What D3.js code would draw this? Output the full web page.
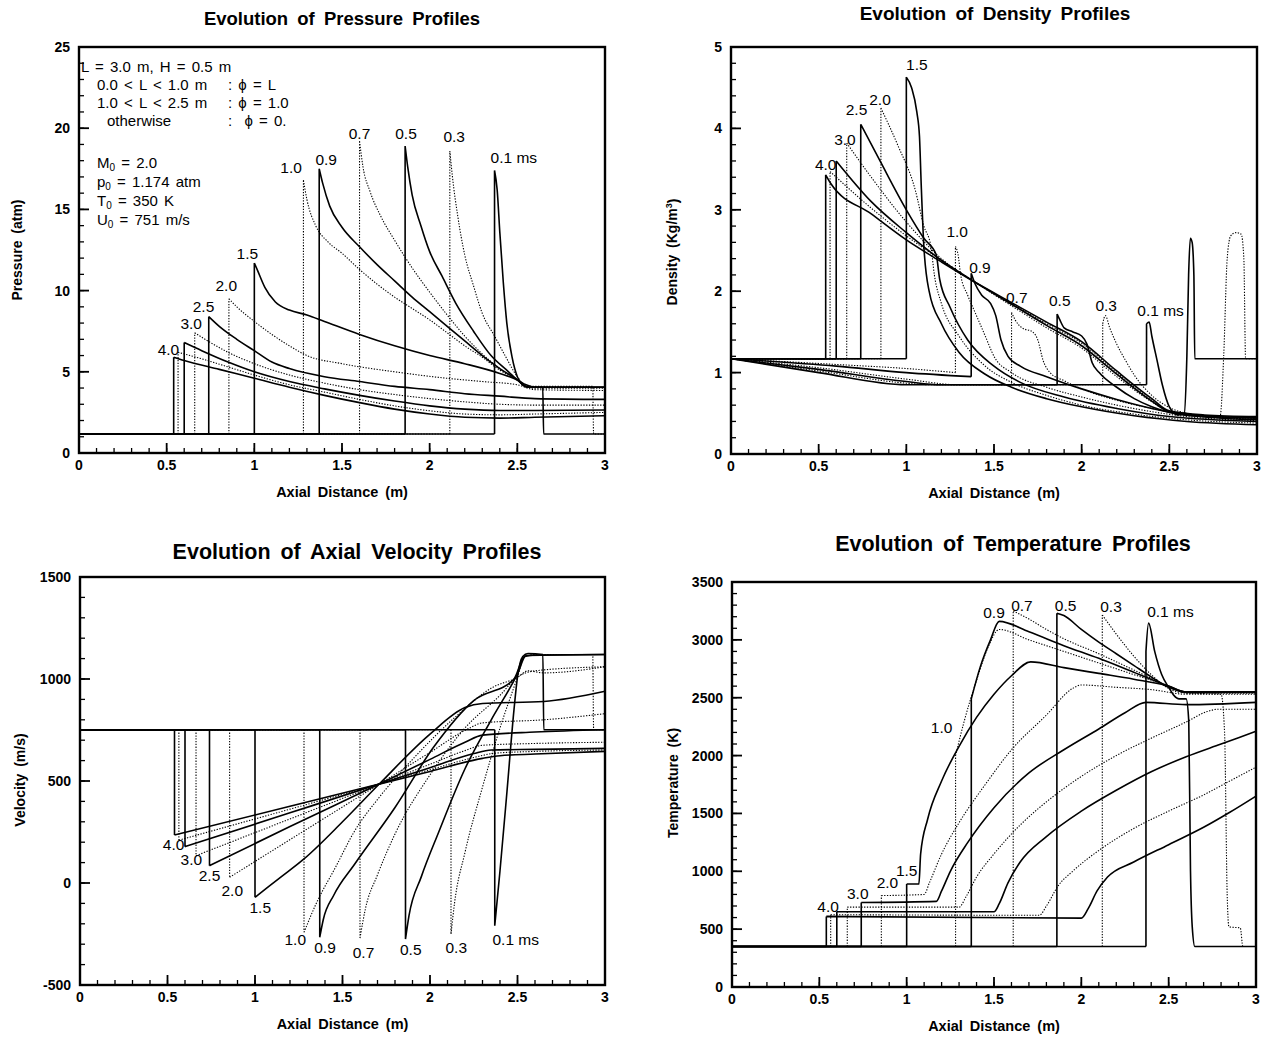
<!DOCTYPE html>
<html>
<head>
<meta charset="utf-8">
<script src="https://cdn.jsdelivr.net/npm/d3@7"></script>
<style>
body { margin: 0; background: #fff; }
svg { font-family: "Liberation Sans", Arial, Helvetica, sans-serif; }
</style>
</head>
<body>
<script>
var width = 1267,
	height = 1037;

// curve order: 0.1 0.3 0.5 0.7 0.9 1.0 1.5 2.0 2.5 3.0 (unlabelled) (unlabelled) 4.0 ms
var timeLabels = ['0.1 ms', '0.3', '0.5', '0.7', '0.9', '1.0', '1.5', '2.0', '2.5', '3.0', '', '', '4.0'];
var dotted = [0, 1, 0, 1, 0, 1, 0, 1, 0, 1, 0, 1, 0];
var xTicks = [0, 0.5, 1, 1.5, 2, 2.5, 3];

// pressure (atm) vs axial distance (m)
var pressureCurves = [
	[[0,1.17],[2.37,1.17],[2.37,17.4],[2.385,16.2],[2.40,13.6],[2.42,10.5],[2.44,8.0],[2.47,5.9],[2.5,4.7],[2.53,4.2],[2.56,4.05],[2.645,4.05],[2.65,1.17],[3,1.17]],
	[[0,1.17],[2.115,1.17],[2.115,18.6],[2.13,17.0],[2.16,14.6],[2.2,12.2],[2.25,10.3],[2.3,8.6],[2.37,7.2],[2.43,6.0],[2.5,4.7],[2.55,4.15],[2.6,4.1],[2.93,4.1],[2.935,1.17],[3,1.17]],
	[[0,1.17],[1.86,1.17],[1.86,18.9],[1.875,17.6],[1.9,15.9],[1.95,14.0],[2.0,12.4],[2.07,10.9],[2.15,9.2],[2.25,7.5],[2.35,6.0],[2.45,5.0],[2.5,4.5],[2.55,4.1],[2.6,4.05],[3,4.05]],
	[[0,1.17],[1.6,1.17],[1.6,19.2],[1.62,17.6],[1.66,16.1],[1.72,14.6],[1.8,13.1],[1.9,11.4],[2.0,9.9],[2.1,8.5],[2.2,7.2],[2.3,6.1],[2.4,5.2],[2.5,4.5],[2.55,4.1],[2.6,4.0],[3,4.0]],
	[[0,1.17],[1.37,1.17],[1.37,17.5],[1.39,16.6],[1.43,15.2],[1.5,13.9],[1.6,12.7],[1.7,11.6],[1.8,10.6],[1.9,9.6],[2.0,8.7],[2.1,7.8],[2.2,6.9],[2.3,6.0],[2.4,5.2],[2.5,4.5],[2.55,4.1],[2.6,4.05],[3,4.05]],
	[[0,1.17],[1.28,1.17],[1.28,16.8],[1.3,15.6],[1.35,14.0],[1.42,13.0],[1.5,12.3],[1.6,11.3],[1.7,10.4],[1.8,9.6],[1.9,8.9],[2.0,8.2],[2.1,7.4],[2.2,6.6],[2.3,5.9],[2.4,5.1],[2.5,4.5],[2.55,4.1],[2.6,4.0],[3,4.0]],
	[[0,1.17],[1.0,1.17],[1.0,11.7],[1.02,11.2],[1.06,10.2],[1.12,9.3],[1.2,8.8],[1.3,8.5],[1.4,8.1],[1.6,7.3],[1.8,6.6],[2.0,6.0],[2.2,5.5],[2.4,4.9],[2.5,4.5],[2.55,4.2],[2.6,4.05],[3,4.05]],
	[[0,1.17],[0.855,1.17],[0.855,9.5],[0.9,9.0],[1.0,8.1],[1.1,7.3],[1.2,6.6],[1.3,6.0],[1.5,5.5],[1.8,5.0],[2.1,4.6],[2.3,4.4],[2.5,4.2],[2.6,3.9],[3,3.85]],
	[[0,1.17],[0.74,1.17],[0.74,8.4],[0.8,7.8],[0.9,7.0],[1.0,6.3],[1.1,5.6],[1.2,5.2],[1.4,4.7],[1.6,4.4],[1.8,4.1],[2.0,3.9],[2.2,3.65],[2.4,3.5],[2.6,3.35],[3,3.3]],
	[[0,1.17],[0.66,1.17],[0.66,7.4],[0.75,6.8],[0.85,6.2],[1.0,5.5],[1.2,4.8],[1.4,4.3],[1.6,3.9],[1.8,3.6],[2.0,3.35],[2.2,3.15],[2.4,3.0],[2.6,2.95],[3,2.95]],
	[[0,1.17],[0.6,1.17],[0.6,6.8],[0.7,6.3],[0.85,5.6],[1.0,5.0],[1.2,4.4],[1.4,3.95],[1.6,3.55],[1.8,3.2],[2.0,2.9],[2.2,2.7],[2.4,2.62],[2.6,2.62],[3,2.65]],
	[[0,1.17],[0.565,1.17],[0.565,6.2],[0.7,5.8],[0.85,5.3],[1.0,4.8],[1.2,4.2],[1.4,3.75],[1.6,3.3],[1.8,2.9],[2.0,2.6],[2.2,2.4],[2.4,2.35],[2.6,2.4],[3,2.5]],
	[[0,1.17],[0.54,1.17],[0.54,5.9],[0.6,5.7],[0.8,5.15],[1.0,4.6],[1.2,4.05],[1.4,3.55],[1.6,3.1],[1.8,2.7],[2.0,2.4],[2.2,2.2],[2.4,2.15],[2.6,2.2],[3,2.3]]
];
var pressureLabelPos = [[2.48,18.2],[2.14,19.5],[1.865,19.7],[1.6,19.7],[1.41,18.1],[1.21,17.6],[0.96,12.3],[0.84,10.3],[0.71,9.05],[0.64,7.96],null,null,[0.51,6.36]];

// density (kg/m3)
var densityCurves = [
	[[0,1.17],[0.5,1.0],[1.0,0.85],[1.1,0.85],[2.37,0.85],[2.37,1.6],[2.385,1.62],[2.40,1.45],[2.43,1.15],[2.46,0.85],[2.5,0.58],[2.55,0.48],[2.585,0.5],[2.6,1.2],[2.61,2.2],[2.62,2.65],[2.63,2.6],[2.64,2.2],[2.645,1.17],[3,1.17]],
	[[0,1.17],[0.5,1.02],[1.0,0.87],[1.15,0.85],[2.12,0.85],[2.12,1.6],[2.135,1.7],[2.16,1.55],[2.2,1.35],[2.25,1.15],[2.3,0.97],[2.4,0.72],[2.5,0.57],[2.6,0.5],[2.7,0.47],[2.79,0.47],[2.81,1.2],[2.83,2.4],[2.85,2.68],[2.88,2.72],[2.91,2.7],[2.925,2.4],[2.935,1.17],[3,1.17]],
	[[0,1.17],[0.5,1.04],[1.0,0.89],[1.2,0.85],[1.86,0.85],[1.86,1.72],[1.875,1.65],[1.9,1.55],[1.95,1.5],[2.0,1.45],[2.03,1.35],[2.06,1.12],[2.1,1.0],[2.2,0.82],[2.3,0.68],[2.4,0.58],[2.5,0.51],[2.7,0.46],[3,0.45]],
	[[0,1.17],[0.5,1.06],[1.0,0.92],[1.3,0.85],[1.6,0.85],[1.6,1.74],[1.62,1.65],[1.66,1.55],[1.72,1.5],[1.75,1.4],[1.78,1.15],[1.82,1.0],[1.9,0.9],[2.0,0.8],[2.2,0.66],[2.4,0.56],[2.6,0.48],[3,0.43]],
	[[0,1.17],[0.6,1.08],[1.0,1.0],[1.37,0.95],[1.37,2.22],[1.39,2.1],[1.43,1.95],[1.48,1.85],[1.51,1.7],[1.54,1.4],[1.58,1.2],[1.65,1.08],[1.8,0.95],[2.0,0.8],[2.2,0.67],[2.4,0.56],[2.6,0.48],[3,0.42]],
	[[0,1.17],[0.6,1.1],[1.0,1.05],[1.28,1.0],[1.28,2.55],[1.295,2.45],[1.31,2.2],[1.35,1.95],[1.4,1.7],[1.45,1.45],[1.5,1.2],[1.6,1.0],[1.8,0.82],[2.0,0.7],[2.2,0.6],[2.4,0.52],[2.6,0.46],[3,0.41]],
	[[0,1.17],[1.0,1.17],[1.0,4.63],[1.03,4.5],[1.06,4.2],[1.075,3.9],[1.085,3.3],[1.1,2.55],[1.13,2.0],[1.2,1.6],[1.3,1.25],[1.45,0.98],[1.6,0.82],[1.8,0.68],[2.0,0.58],[2.3,0.47],[2.6,0.4],[3,0.36]],
	[[0,1.17],[0.855,1.17],[0.855,4.25],[0.95,3.8],[1.05,3.25],[1.1,2.8],[1.14,2.55],[1.16,2.2],[1.2,1.85],[1.3,1.45],[1.45,1.08],[1.6,0.88],[1.8,0.72],[2.0,0.6],[2.3,0.49],[2.6,0.42],[3,0.38]],
	[[0,1.17],[0.74,1.17],[0.74,4.05],[0.85,3.6],[1.0,3.0],[1.1,2.65],[1.17,2.45],[1.19,2.15],[1.25,1.8],[1.35,1.4],[1.5,1.08],[1.65,0.88],[1.9,0.7],[2.2,0.56],[2.5,0.46],[3,0.4]],
	[[0,1.17],[0.66,1.17],[0.66,3.82],[0.8,3.4],[1.0,2.85],[1.2,2.4],[1.4,2.1],[1.6,1.82],[1.8,1.55],[2.0,1.3],[2.2,0.95],[2.4,0.64],[2.5,0.52],[2.7,0.46],[3,0.43]],
	[[0,1.17],[0.6,1.17],[0.6,3.6],[0.8,3.1],[1.0,2.72],[1.2,2.38],[1.4,2.1],[1.6,1.84],[1.8,1.58],[2.0,1.33],[2.2,0.98],[2.4,0.65],[2.5,0.52],[2.7,0.47],[3,0.44]],
	[[0,1.17],[0.565,1.17],[0.565,3.47],[0.8,3.02],[1.0,2.68],[1.2,2.38],[1.4,2.1],[1.6,1.85],[1.8,1.6],[2.0,1.36],[2.2,1.0],[2.4,0.66],[2.5,0.52],[2.7,0.47],[3,0.45]],
	[[0,1.17],[0.54,1.17],[0.54,3.43],[0.57,3.32],[0.8,2.95],[1.0,2.63],[1.2,2.36],[1.4,2.1],[1.6,1.86],[1.8,1.62],[2.0,1.38],[2.2,1.02],[2.4,0.68],[2.5,0.53],[2.7,0.48],[3,0.46]]
];
var densityLabelPos = [[2.45,1.77],[2.14,1.82],[1.875,1.89],[1.63,1.92],[1.42,2.29],[1.29,2.74],[1.06,4.78],[0.85,4.35],[0.716,4.23],[0.65,3.86],null,null,[0.54,3.56]];

// axial velocity (m/s)
var velocityCurves = [
	[[0,751],[2.37,751],[2.37,-209],[2.4,60],[2.44,450],[2.48,850],[2.5,1010],[2.53,1110],[2.56,1125],[2.645,1120],[2.65,751],[3,751]],
	[[0,751],[2.12,751],[2.12,-250],[2.14,-100],[2.2,150],[2.3,470],[2.4,760],[2.5,1010],[2.54,1110],[2.6,1120],[2.93,1120],[2.935,751],[3,751]],
	[[0,751],[1.86,751],[1.86,-275],[1.88,-160],[1.95,30],[2.05,250],[2.2,560],[2.35,800],[2.5,1025],[2.55,1115],[3,1120]],
	[[0,751],[1.6,751],[1.6,-270],[1.63,-130],[1.7,40],[1.8,240],[2.0,530],[2.2,760],[2.4,920],[2.5,1010],[2.6,1040],[3,1060]],
	[[0,751],[1.37,751],[1.37,-266],[1.39,-180],[1.45,-60],[1.57,93],[1.8,370],[2.02,665],[2.25,894],[2.48,1000],[2.54,1110],[2.6,1118],[3,1120]],
	[[0,751],[1.28,751],[1.28,-242],[1.35,-100],[1.46,77],[1.57,256],[1.71,420],[1.91,615],[2.14,810],[2.36,960],[2.5,1008],[2.56,1040],[2.65,1030],[3,1060]],
	[[0,751],[1.0,751],[1.0,-70],[1.14,24],[1.28,118],[1.5,300],[1.71,485],[2.0,730],[2.2,860],[2.3,880],[2.65,890],[3,940]],
	[[0,751],[0.855,751],[0.855,28],[1.3,266],[1.71,485],[2.0,640],[2.22,757],[2.3,785],[2.65,800],[3,830]],
	[[0,751],[0.74,751],[0.74,85],[1.2,277],[1.71,485],[2.0,606],[2.2,690],[2.3,725],[2.6,740],[3,751]],
	[[0,751],[0.663,751],[0.663,134],[1.2,314],[1.71,485],[2.0,582],[2.2,649],[2.3,675],[2.6,684],[3,690]],
	[[0,751],[0.6,751],[0.6,178],[1.2,344],[1.71,485],[2.0,565],[2.25,635],[2.35,652],[2.6,655],[3,660]],
	[[0,751],[0.565,751],[0.565,210],[1.2,362],[1.71,485],[2.0,555],[2.25,615],[2.37,636],[2.6,645],[3,652]],
	[[0,751],[0.54,751],[0.54,235],[1.2,376],[1.71,485],[2.0,547],[2.3,611],[2.4,624],[2.6,632],[3,645]]
];
var velocityLabelPos = [[2.49,-275],[2.15,-315],[1.89,-324],[1.62,-340],[1.40,-315],[1.23,-275],[1.03,-119],[0.87,-38],[0.74,36],[0.636,118],null,null,[0.535,191]];

// temperature (K)
var temperatureCurves = [
	[[0,350],[2.37,350],[2.37,2900],[2.385,3145],[2.42,2900],[2.46,2700],[2.5,2590],[2.53,2520],[2.56,2490],[2.6,2490],[2.615,2300],[2.625,1000],[2.635,520],[2.65,350],[3,350]],
	[[0,350],[2.12,350],[2.12,3215],[2.2,3050],[2.3,2860],[2.4,2700],[2.5,2580],[2.6,2540],[2.8,2530],[2.82,2200],[2.835,800],[2.845,520],[2.91,510],[2.925,350],[3,350]],
	[[0,350],[1.86,350],[1.86,3230],[1.9,3210],[2.0,3090],[2.1,2980],[2.2,2880],[2.3,2780],[2.4,2680],[2.5,2590],[2.6,2550],[3,2550]],
	[[0,350],[1.61,350],[1.61,3250],[1.7,3180],[1.8,3090],[1.9,3010],[2.1,2880],[2.3,2740],[2.5,2600],[2.6,2545],[3,2540]],
	[[0,350],[1.37,350],[1.37,2490],[1.42,2760],[1.48,3000],[1.53,3160],[1.7,3070],[1.9,2950],[2.1,2840],[2.3,2720],[2.5,2600],[2.6,2550],[3,2550]],
	[[0,350],[1.28,350],[1.28,2000],[1.33,2300],[1.4,2650],[1.47,2950],[1.53,3090],[1.7,3000],[1.9,2900],[2.1,2800],[2.3,2700],[2.5,2600],[2.6,2540],[3,2540]],
	[[0,350],[1.0,350],[1.0,890],[1.07,890],[1.08,1150],[1.12,1450],[1.2,1780],[1.3,2080],[1.4,2330],[1.5,2530],[1.6,2690],[1.71,2810],[1.9,2760],[2.1,2710],[2.3,2660],[2.5,2600],[2.6,2550],[3,2550]],
	[[0,350],[0.855,350],[0.855,790],[1.1,800],[1.13,900],[1.2,1150],[1.3,1420],[1.45,1750],[1.6,2050],[1.8,2350],[1.95,2580],[2.0,2610],[2.2,2590],[2.4,2570],[2.6,2530],[3,2530]],
	[[0,350],[0.74,350],[0.74,730],[1.17,740],[1.2,830],[1.25,1000],[1.35,1250],[1.5,1550],[1.7,1850],[1.9,2050],[2.1,2230],[2.25,2370],[2.37,2460],[2.6,2440],[3,2460]],
	[[0,350],[0.66,350],[0.66,690],[1.3,690],[1.34,780],[1.4,950],[1.5,1150],[1.65,1400],[1.8,1600],[2.0,1820],[2.2,2000],[2.4,2150],[2.6,2290],[2.72,2380],[2.78,2400],[3,2400]],
	[[0,350],[0.6,350],[0.6,650],[1.5,650],[1.53,720],[1.58,900],[1.65,1080],[1.8,1300],[2.0,1520],[2.2,1700],[2.4,1860],[2.6,1990],[2.8,2100],[3,2210]],
	[[0,350],[0.565,350],[0.565,625],[1.76,620],[1.8,700],[1.87,880],[1.95,1000],[2.1,1180],[2.3,1370],[2.5,1520],[2.7,1660],[2.85,1780],[3,1900]],
	[[0,350],[0.54,350],[0.54,610],[2.0,595],[2.04,680],[2.09,830],[2.15,950],[2.3,1080],[2.5,1230],[2.7,1380],[2.85,1510],[3,1650]]
];
var temperatureLabelPos = [[2.51,3250],[2.17,3287],[1.91,3301],[1.66,3301],[1.50,3239],[1.20,2247],[1.0,1006],[0.89,907],null,[0.72,812],null,null,[0.55,693]];

var svg = d3.select('body')
	.append('svg')
	.attr('width', width)
	.attr('height', height);

svg.append('rect')
	.attr('width', width)
	.attr('height', height)
	.attr('fill', '#fff');

function fmt(d) {
	return d3.format('~g')(d).replace('\u2212', '-');
}

// split a curve so vertical jumps are drawn straight and the rest smooth
function pieces(pts) {
	var out = [],
		cur = [pts[0]];
	for (var i = 1; i < pts.length; i++) {
		if (pts[i][0] <= pts[i - 1][0]) {
			if (cur.length > 1) out.push(cur);
			out.push([pts[i - 1], pts[i]]);
			cur = [pts[i]];
		} else {
			cur.push(pts[i]);
		}
	}
	if (cur.length > 1) out.push(cur);
	return out;
}

function drawPanel(cfg) {
	var x = d3.scaleLinear().domain([0, 3]).range([cfg.left, cfg.right]);
	var y = d3.scaleLinear().domain(cfg.yDomain).range([cfg.bottom, cfg.top]);
	var g = svg.append('g');

	var line = d3.line()
		.x(function(d) { return x(d[0]); })
		.y(function(d) { return y(d[1]); })
		.curve(d3.curveMonotoneX);

	g.selectAll('path.curve')
		.data(cfg.curves)
		.enter()
		.append('path')
		.attr('class', 'curve')
		.attr('d', function(d) {
			return pieces(d).map(function(s) { return line(s); }).join('');
		})
		.attr('fill', 'none')
		.attr('stroke', '#000')
		.attr('stroke-width', function(d, i) { return dotted[i] ? 1.1 : 1.6; })
		.attr('stroke-dasharray', function(d, i) { return dotted[i] ? '1.3,1.5' : null; });

	// minor and major ticks, pointing inward from bottom and left
	var xMinor = d3.range(0, 3.0001, 0.1);
	g.selectAll('line.xminor').data(xMinor).enter().append('line')
		.attr('x1', function(d) { return x(d); }).attr('x2', function(d) { return x(d); })
		.attr('y1', cfg.bottom).attr('y2', cfg.bottom - 5)
		.attr('stroke', '#000').attr('stroke-width', 1.3);
	g.selectAll('line.xmajor').data(xTicks).enter().append('line')
		.attr('x1', function(d) { return x(d); }).attr('x2', function(d) { return x(d); })
		.attr('y1', cfg.bottom).attr('y2', cfg.bottom - 10)
		.attr('stroke', '#000').attr('stroke-width', 1.8);
	var yMinor = d3.range(cfg.yDomain[0], cfg.yDomain[1] + cfg.yMinor / 2, cfg.yMinor);
	g.selectAll('line.yminor').data(yMinor).enter().append('line')
		.attr('y1', function(d) { return y(d); }).attr('y2', function(d) { return y(d); })
		.attr('x1', cfg.left).attr('x2', cfg.left + 5)
		.attr('stroke', '#000').attr('stroke-width', 1.3);
	g.selectAll('line.ymajor').data(cfg.yTicks).enter().append('line')
		.attr('y1', function(d) { return y(d); }).attr('y2', function(d) { return y(d); })
		.attr('x1', cfg.left).attr('x2', cfg.left + 10)
		.attr('stroke', '#000').attr('stroke-width', 1.8);

	g.append('rect')
		.attr('x', cfg.left).attr('y', cfg.top)
		.attr('width', cfg.right - cfg.left).attr('height', cfg.bottom - cfg.top)
		.attr('fill', 'none').attr('stroke', '#000').attr('stroke-width', 2.4);

	g.selectAll('text.xtick').data(xTicks).enter().append('text')
		.attr('x', function(d) { return x(d); })
		.attr('y', cfg.bottom + 17)
		.attr('text-anchor', 'middle')
		.attr('font-size', 14).attr('font-weight', 'bold')
		.text(fmt);
	g.selectAll('text.ytick').data(cfg.yTicks).enter().append('text')
		.attr('x', cfg.left - 9)
		.attr('y', function(d) { return y(d); })
		.attr('dy', '0.36em')
		.attr('text-anchor', 'end')
		.attr('font-size', 14).attr('font-weight', 'bold')
		.text(fmt);

	g.append('text')
		.attr('x', cfg.titleX).attr('y', cfg.titleY)
		.attr('text-anchor', 'middle')
		.attr('font-size', cfg.titleSize).attr('font-weight', 'bold')
		.attr('word-spacing', 4)
		.text(cfg.title);
	g.append('text')
		.attr('x', (cfg.left + cfg.right) / 2).attr('y', cfg.bottom + 44)
		.attr('text-anchor', 'middle')
		.attr('font-size', 14.5).attr('font-weight', 'bold')
		.attr('word-spacing', 3)
		.text('Axial Distance (m)');
	var yl = g.append('text')
		.attr('transform', 'translate(' + cfg.ylabelX + ',' + cfg.ylabelY + ') rotate(-90)')
		.attr('dy', '0.36em')
		.attr('text-anchor', 'middle')
		.attr('font-size', 14).attr('font-weight', 'bold')
		.attr('word-spacing', 3)
		.text(cfg.ylabel);
	if (cfg.ylabelSup) {
		yl.append('tspan').attr('font-size', 9).attr('dy', '-0.6em').text(cfg.ylabelSup);
		yl.append('tspan').attr('dy', '0.42em').text(')');
	}

	g.selectAll('text.curvelabel')
		.data(cfg.labels.map(function(p, i) { return p ? {p: p, t: timeLabels[i]} : null; })
			.filter(function(d) { return d && d.t; }))
		.enter().append('text')
		.attr('x', function(d) { return x(d.p[0]); })
		.attr('y', function(d) { return y(d.p[1]); })
		.attr('dy', '0.36em')
		.attr('text-anchor', 'middle')
		.attr('font-size', 15.5)
		.text(function(d) { return d.t; });

	return {x: x, y: y, g: g};
}

var pPanel = drawPanel({
	left: 79, right: 605, top: 47, bottom: 453,
	yDomain: [0, 25], yTicks: [0, 5, 10, 15, 20, 25], yMinor: 1,
	curves: pressureCurves, labels: pressureLabelPos,
	title: 'Evolution of Pressure Profiles', titleX: 342, titleY: 25, titleSize: 18.5,
	ylabel: 'Pressure (atm)', ylabelX: 17, ylabelY: 250
});

drawPanel({
	left: 731, right: 1257, top: 47, bottom: 454,
	yDomain: [0, 5], yTicks: [0, 1, 2, 3, 4, 5], yMinor: 0.2,
	curves: densityCurves, labels: densityLabelPos,
	title: 'Evolution of Density Profiles', titleX: 995, titleY: 20, titleSize: 19,
	ylabel: 'Density (Kg/m', ylabelSup: '3', ylabelX: 672, ylabelY: 252
});

drawPanel({
	left: 80, right: 605, top: 577, bottom: 985,
	yDomain: [-500, 1500], yTicks: [-500, 0, 500, 1000, 1500], yMinor: 100,
	curves: velocityCurves, labels: velocityLabelPos,
	title: 'Evolution of Axial Velocity Profiles', titleX: 357, titleY: 559, titleSize: 21.5,
	ylabel: 'Velocity (m/s)', ylabelX: 20, ylabelY: 780
});

drawPanel({
	left: 732, right: 1256, top: 582, bottom: 987,
	yDomain: [0, 3500], yTicks: [0, 500, 1000, 1500, 2000, 2500, 3000, 3500], yMinor: 100,
	curves: temperatureCurves, labels: temperatureLabelPos,
	title: 'Evolution of Temperature Profiles', titleX: 1013, titleY: 551, titleSize: 21.5,
	ylabel: 'Temperature (K)', ylabelX: 673, ylabelY: 783
});

// case description inside the pressure panel
var note = pPanel.g.append('g').attr('font-size', 15).attr('word-spacing', 2);
note.append('text').attr('x', 81).attr('y', 72).text('L = 3.0 m,  H = 0.5 m');
var phiRows = [
	['0.0 < L < 1.0 m', ': \u03d5 = L', 97, 90],
	['1.0 < L < 2.5 m', ': \u03d5 = 1.0', 97, 108],
	['otherwise', ':  \u03d5 = 0.', 107, 126]
];
phiRows.forEach(function(r) {
	note.append('text').attr('x', r[2]).attr('y', r[3]).text(r[0]);
	note.append('text').attr('x', 228).attr('y', r[3]).attr('xml:space', 'preserve').text(r[1]);
});
var inflow = [
	['M', ' = 2.0', 168],
	['p', ' = 1.174 atm', 187],
	['T', ' = 350 K', 206],
	['U', ' = 751 m/s', 225]
];
inflow.forEach(function(r) {
	var t = note.append('text').attr('x', 97).attr('y', r[2]);
	t.append('tspan').text(r[0]);
	t.append('tspan').attr('font-size', 10).attr('dy', 3).text('0');
	t.append('tspan').attr('dy', -3).text(r[1]);
});
</script>
</body>
</html>
